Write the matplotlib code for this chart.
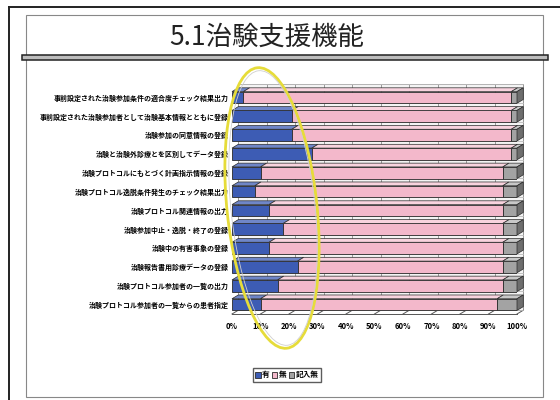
import numpy as np
import matplotlib.pyplot as plt
from matplotlib.patches import Polygon, Rectangle, Ellipse

plt.rcParams['font.family'] = ['Noto Sans CJK JP', 'DejaVu Sans']

title = '5.1治験支援機能'
items = [
    '事前設定された治験参加条件の適合度チェック結果出力',
    '事前設定された治験参加者として治験基本情報とともに登録',
    '治験参加の同意情報の登録',
    '治験と治験外診療とを区別してデータ登録',
    '治験プロトコルにもとづく計画指示情報の登録',
    '治験プロトコル逸脱条件発生のチェック結果出力',
    '治験プロトコル関連情報の出力',
    '治験参加中止・逸脱・終了の登録',
    '治験中の有害事象の登録',
    '治験報告書用診療データの登録',
    '治験プロトコル参加者の一覧の出力',
    '治験プロトコル参加者の一覧からの患者指定',
]
yes = [4, 21, 21, 28, 10, 8, 13, 18, 13, 23, 16, 10]
blank = [2, 2, 2, 2, 5, 5, 5, 5, 5, 5, 5, 7]
no = [100 - a - b for a, b in zip(yes, blank)]
series = ['有', '無', '記入無']
colors = ['#3d5cb4', '#f3b8cb', '#a3a3a3']
tops = ['#6f86c8', '#f8d3de', '#c8c8c8']

fig = plt.figure(figsize=(5.6, 4), dpi=100)

# chart
ax = fig.add_axes([232 / 560, 1 - 314 / 400, 285 / 560, 226 / 400])
n = len(items)
ypos = np.arange(n)
h = 0.62
dx, dy = 2.2, 0.2

# back wall with grid
ax.add_patch(Rectangle((dx, -0.5 - dy), 100, n, facecolor='#f4f4f4',
                       edgecolor='#888888', lw=0.6, zorder=0, clip_on=False))
for g in range(0, 101, 10):
    ax.plot([g + dx, g + dx], [-0.5 - dy, n - 0.5 - dy], color='#999999',
            lw=0.7, zorder=0.5, clip_on=False)
    ax.plot([g, g + dx], [n - 0.5, n - 0.5 - dy], color='#555555',
            lw=0.7, zorder=0.5, clip_on=False)
ax.plot([0, 100], [n - 0.5, n - 0.5], color='#555555', lw=0.7, clip_on=False)
for i in range(n + 1):
    ax.plot([dx, 100 + dx], [i - 0.5 - dy, i - 0.5 - dy], color='#bbbbbb',
            lw=0.6, zorder=0.5, clip_on=False)

vals = [yes, no, blank]
left = np.zeros(n)
for k in range(3):
    v = np.array(vals[k], dtype=float)
    ax.barh(ypos, v, left=left, height=h, color=colors[k], edgecolor='#2a2a2a',
            lw=0.6, label=series[k], zorder=2)
    for i in range(n):
        l, r = left[i], left[i] + v[i]
        yt = ypos[i] - h / 2
        ax.add_patch(Polygon([(l, yt), (r, yt), (r + dx, yt - dy), (l + dx, yt - dy)],
                             closed=True, facecolor=tops[k], edgecolor='#2a2a2a',
                             lw=0.5, zorder=2, clip_on=False))
    left = left + v
for i in range(n):
    yt = ypos[i] - h / 2
    ax.add_patch(Polygon([(100, yt), (100 + dx, yt - dy), (100 + dx, yt + h - dy), (100, yt + h)],
                         closed=True, facecolor='#6e6e6e', edgecolor='#2a2a2a',
                         lw=0.5, zorder=2, clip_on=False))

ax.set_xlim(0, 100)
ax.set_ylim(n - 0.5, -0.5)
ax.set_xticks(range(0, 101, 10))
ax.set_xticklabels([f'{t}%' for t in range(0, 101, 10)], fontsize=5.5, fontweight='bold')
ax.set_yticks(ypos)
ax.set_yticklabels(items, fontsize=5, fontweight='bold')
ax.tick_params(length=0, pad=2)
ax.tick_params(axis='x', pad=6)
for s in ax.spines.values():
    s.set_visible(False)
ax.patch.set_visible(False)

fig.legend(loc='center', bbox_to_anchor=(287 / 560, 1 - 375 / 400), ncol=3,
           handlelength=0.7, handleheight=0.7, handletextpad=0.2,
           columnspacing=0.3, frameon=True, fancybox=False, edgecolor='#333333',
           borderpad=0.3, prop={'weight': 'bold', 'size': 5.5})

# slide frame, title, highlight
ov = fig.add_axes([0, 0, 1, 1], zorder=5)
ov.set_xlim(0, 560)
ov.set_ylim(400, 0)
ov.axis('off')
ov.patch.set_visible(False)
ov.plot([9, 560], [7, 7], color='#222222', lw=1.4)
ov.plot([9, 9], [7, 400], color='#222222', lw=1.4)
ov.add_patch(Rectangle((26, 15), 517, 382, fill=False, edgecolor='#888888', lw=0.8))
ov.add_patch(Rectangle((22, 55), 526, 5, facecolor='#bdbdbd', edgecolor='#222222', lw=1.1))
ov.text(267, 37, title, fontsize=19, ha='center', va='center', color='#222222')
ov.add_patch(Ellipse((272, 208), 90, 282, angle=-6, fill=False,
                     edgecolor='#e6dc3a', lw=2.0))
ov.add_patch(Ellipse((273, 208), 84, 276, angle=-6, fill=False,
                     edgecolor='#cfcfcf', lw=0.6))

fig.savefig('out.png', dpi=100)
